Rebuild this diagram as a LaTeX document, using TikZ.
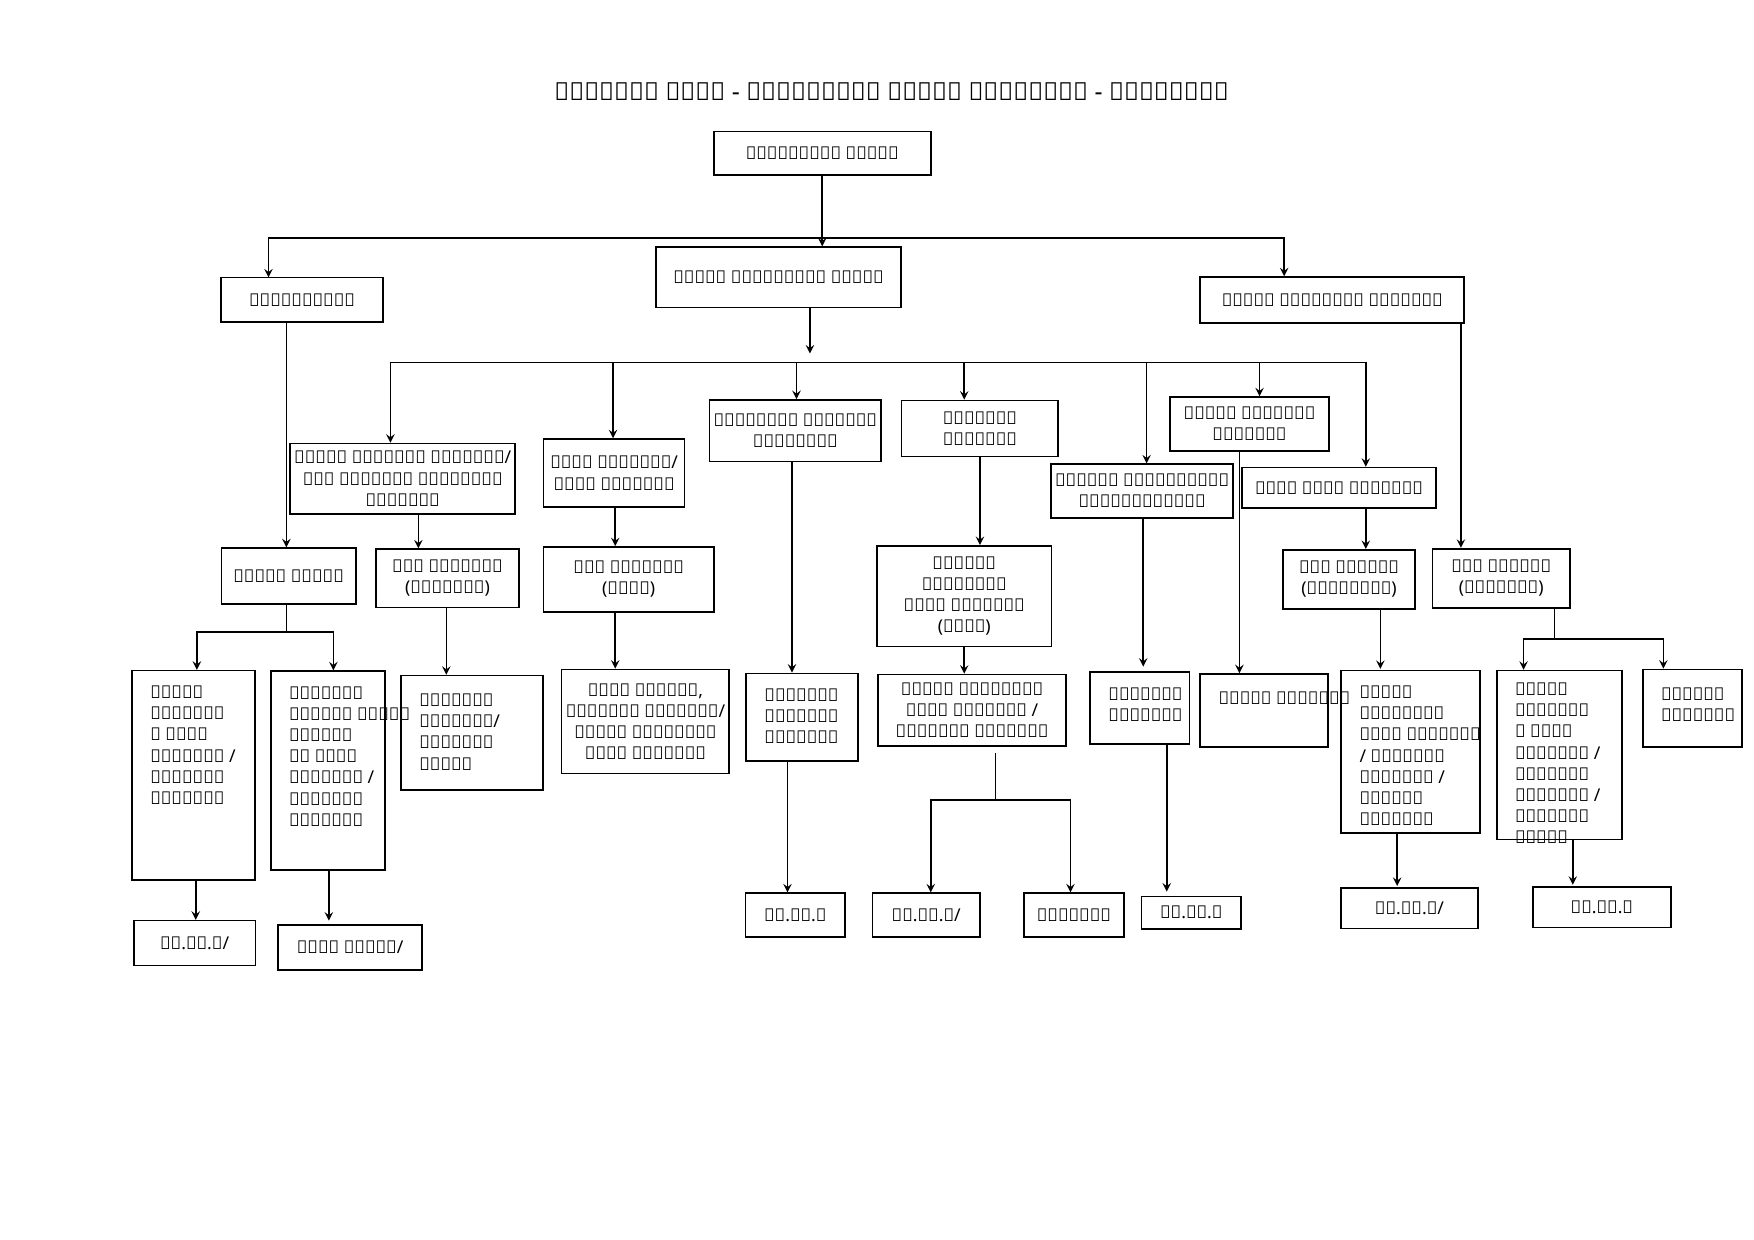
\documentclass[tikz,border=0pt]{standalone}
\usepackage{fontspec}
\newfontfamily\sinhfont{Noto Sans}
\usetikzlibrary{arrows, positioning, calc}
\tikzstyle{arrow} = [thick,->,>=stealth]
\tikzstyle{box} = [rectangle, draw, thick, align=center, inner sep=2pt]
\tikzset{sz/.style 2 args={minimum width=#1*0.01894cm, minimum height=#2*0.01894cm}}
\newcommand\zj{^^^^200d}

\begin{document}
\begin{tikzpicture}[x=0.01894cm, y=-0.01894cm, font=\sinhfont\fontsize{8.5}{10.2}\selectfont]
    \useasboundingbox (0,0) rectangle (1568,1108);
    % Title
    \node (title) at (797,82) [font=\sinhfont\fontsize{12}{14}\selectfont] {සංවිධාන සටහන - ප්\zj රාදේශීය ලේකම් කාර්යාලය - හික්කඩුව};

    % Top levels
    \node (ps) [box, sz={194}{39}] at (735,137) {ප්\zj රාදේශීය ලේකම්};
    \node (aps) [box, sz={219}{54}] at (696,248) {සහකාර ප්\zj රාදේශීය ලේකම්};
    \node (acc) [box, sz={145}{40}] at (270,268) {ගණකාධිකාරී};
    \node (adp) [box, sz={236}{41}] at (1191,268) {සහකාර අධ්\zj යක්ෂක සැලසුම්};

    % Second row
    \node (gsn) [box, sz={184}{63}] at (360,428) {ග්\zj රාම සංවර්ධන නිලධාරී/\\ළමා හිමිකම් ප්\zj රවර්ධන\\නිලධාරී};
    \node (idn) [box, sz={126}{61}] at (549,423) {ඉඩම් නිලධාරී/\\ජනපද නිලධාරී};
    \node (msk) [box, sz={146}{55}] at (711,385) {මූලස්ථාන සමෘද්ධි\\කළමනාකරු};
    \node (pan) [box, sz={140}{50}] at (876,383) {පරිපාලන\\නිලධාරී};
    \node (adr) [box, sz={150}{48}] at (1021,439) {අතිරේක දිස්ත්\zj රික්\\රෙජිස්ට්\zj රාර්};
    \node (gnp) [box, sz={142}{48}] at (1117,379) {ග්\zj රාම නිලධාරී\\පරිපාලන};
    \node (ssn) [box, sz={173}{36}] at (1197,436) {සමාජ සේවා නිලධාරී};

    % Third row
    \node (mds) [box, sz={120}{50}] at (258,515) {මුදල් සහකාර};
    \node (apk) [box, sz={128}{52}] at (400,517) {අංශ ප්\zj රධානී\\(ක්ෂේත්\zj ර)};
    \node (api) [box, sz={152}{58}] at (562,518) {අංශ ප්\zj රධානී\\(ඉඩම්)};
    \node (pks) [box, sz={156}{90}] at (862,533) {ප්\zj රධාන\\කළමනාකරණ\\සේවා නිලධාරී\\(ආයතන)};
    \node (aps2) [box, sz={118}{53}] at (1206,518) {අංශ ප්\zj රධාන\\(සමාජසේවා)};
    \node (apv) [box, sz={123}{53}] at (1342,517) {අංශ ප්\zj රධාන\\(සංවර්ධන)};

    % Fourth row
    \node (rk1) [box, sz={110}{187}] at (173,693) {};
    \node at (rk1.north west) [anchor=north west, align=left, xshift=0.2cm, yshift=-0.15cm] {රාජ්\zj ය\\කළමනාකර\\ණ සේවා\\නිලධාරී /\\සංවර්ධන\\නිලධාරී};
    \node (vrk) [box, sz={102}{178}] at (293,689) {};
    \node at (vrk.north west) [anchor=north west, align=left, xshift=0.2cm, yshift=-0.15cm] {විශ්\zj රාම\\වැටුප් රාජ්\zj ය\\කළමනාක\\රණ සේවා\\නිලධාරී /\\සංවර්ධන\\නිලධාරී};
    \node (svs) [box, sz={127}{102}] at (422,655) {};
    \node at (svs.north west) [anchor=north west, align=left, xshift=0.2cm, yshift=-0.2cm] {සංවර්ධන\\නිලධාරී/\\සංවර්ධන\\සහකාර};
    \node (ipr) [box, sz={148}{93}] at (577,645) {ඉඩම් පරිහරණ,\\සංවර්ධන නිලධාරී/\\රාජ්\zj ය කළමනාකරණ\\සේවා නිලධාරී};
    \node (ssv) [box, sz={100}{78}] at (717,641) {};
    \node at (ssv.north west) [anchor=north west, align=left, xshift=0.2cm, yshift=-0.15cm] {සමෘද්ධි\\සංවර්ධන\\නිලධාරී};
    \node (rk2) [box, sz={168}{64}] at (869,635) {රාජ්\zj ය කළමනාකරණ\\සේවා නිලධාරී /\\සංවර්ධන නිලධාරී};
    \node (svn) [box, sz={89}{64}] at (1019,633) {};
    \node at (svn.north west) [anchor=north west, align=left, xshift=0.2cm, yshift=-0.15cm] {සංවර්ධන\\නිලධාරී};
    \node (grn) [box, sz={114}{65}] at (1130,635) {};
    \node at (grn.north west) [anchor=north west, align=left, xshift=0.2cm, yshift=-0.2cm] {ග්\zj රාම නිලධාරී};
    \node (rk3) [box, sz={124}{145}] at (1261,672) {};
    \node at (rk3.north west) [anchor=north west, align=left, xshift=0.2cm, yshift=-0.15cm] {රාජ්\zj ය\\කළමනාකරණ\\සේවා නිලධාරී\\/ සංවර්ධන\\නිලධාරී /\\උපදේශන\\නිලධාරී};
    \node (rk4) [box, sz={112}{151}] at (1394,675) {};
    \node at (rk4.north west) [anchor=north west, align=left, xshift=0.2cm, yshift=-0.1cm] {රාජ්\zj ය\\කළමනාකර\\ණ සේවා\\නිලධාරී /\\සංවර්ධන\\නිලධාරී /\\සැලසුම්\\සහකාර};
    \node (tkn) [box, sz={89}{69}] at (1513,633) {};
    \node at (tkn.north west) [anchor=north west, align=left, xshift=0.2cm, yshift=-0.2cm] {තාක්ෂණ\\නිලධාරී};

    % Bottom row
    \node (kk1) [box, sz={109}{40}] at (174,843) {කා.කා.ස/};
    \node (lsk) [box, sz={129}{40}] at (313,847) {ලේඛන සහකාර/};
    \node (kk2) [box, sz={89}{39}] at (711,818) {කා.කා.ස};
    \node (kk3) [box, sz={96}{39}] at (828,818) {කා.කා.ස/};
    \node (rid) [box, sz={89}{39}] at (960,818) {රියදුරු};
    \node (kk4) [box, sz={89}{29}] at (1065,816) {කා.කා.ස};
    \node (kk5) [box, sz={123}{36}] at (1260,812) {කා.කා.ස/};
    \node (kk6) [box, sz={123}{36}] at (1432,811) {කා.කා.ස};

    % Junctions
    \coordinate (j0) at (733,213);
    \coordinate (j1) at (724,324);
    \coordinate (j2) at (256,565);
    \coordinate (j3) at (890,715);
    \coordinate (j4) at (1390,571);

    % Connections
    \draw [arrow] (ps.south) -- (ps.south |- aps.north);
    \draw [arrow] (j0) -| (240,248);
    \draw [arrow] (j0) -| (1148,247);
    \draw [arrow] (aps.south -| j1) -- (724,316);
    \foreach \n/\x in {gsn/349, idn/548, msk/712, pan/862, adr/1025, gnp/1126, ssn/1221}
        \draw [arrow] (j1) -| (\x,0 |- \n.north);
    \draw [arrow] (256,0 |- acc.south) -- (256,0 |- mds.north);
    \draw [arrow] (1306,0 |- adp.south) -- (1306,0 |- apv.north);
    \draw [arrow] (374,0 |- gsn.south) -- (374,0 |- apk.north);
    \draw [arrow] (550,0 |- idn.south) -- (550,0 |- api.north);
    \draw [arrow] (876,0 |- pan.south) -- (876,0 |- pks.north);
    \draw [arrow] (1221,0 |- ssn.south) -- (1221,0 |- aps2.north);
    \draw (j2 |- mds.south) -- (j2);
    \draw [arrow] (j2) -| (176,0 |- rk1.north);
    \draw [arrow] (j2) -| (298,0 |- vrk.north);
    \draw [arrow] (399,0 |- apk.south) -- (399,0 |- svs.north);
    \draw [arrow] (550,0 |- api.south) -- (550,0 |- ipr.north);
    \draw [arrow] (708,0 |- msk.south) -- (708,0 |- ssv.north);
    \draw [arrow] (862,0 |- pks.south) -- (862,0 |- rk2.north);
    \draw [arrow] (1022,0 |- adr.south) -- (1022,596);
    \draw [arrow] (1108,0 |- gnp.south) -- (1108,0 |- grn.north);
    \draw [arrow] (1234,0 |- aps2.south) -- (1234,598);
    \draw (j4 |- apv.south) -- (j4);
    \draw [arrow] (j4) -| (1362,0 |- rk4.north);
    \draw [arrow] (j4) -| (1487,0 |- tkn.north);
    \draw [arrow] (175,0 |- rk1.south) -- (175,0 |- kk1.north);
    \draw [arrow] (294,0 |- vrk.south) -- (294,823);
    \draw [arrow] (704,0 |- ssv.south) -- (704,0 |- kk2.north);
    \draw (890,673) -- (j3);
    \draw [arrow] (j3) -| (832,0 |- kk3.north);
    \draw [arrow] (j3) -| (957,0 |- rid.north);
    \draw [arrow] (1043,0 |- svn.south) -- (1043,797);
    \draw [arrow] (1249,0 |- rk3.south) -- (1249,792);
    \draw [arrow] (1406,0 |- rk4.south) -- (1406,791);
\end{tikzpicture}
\end{document}
